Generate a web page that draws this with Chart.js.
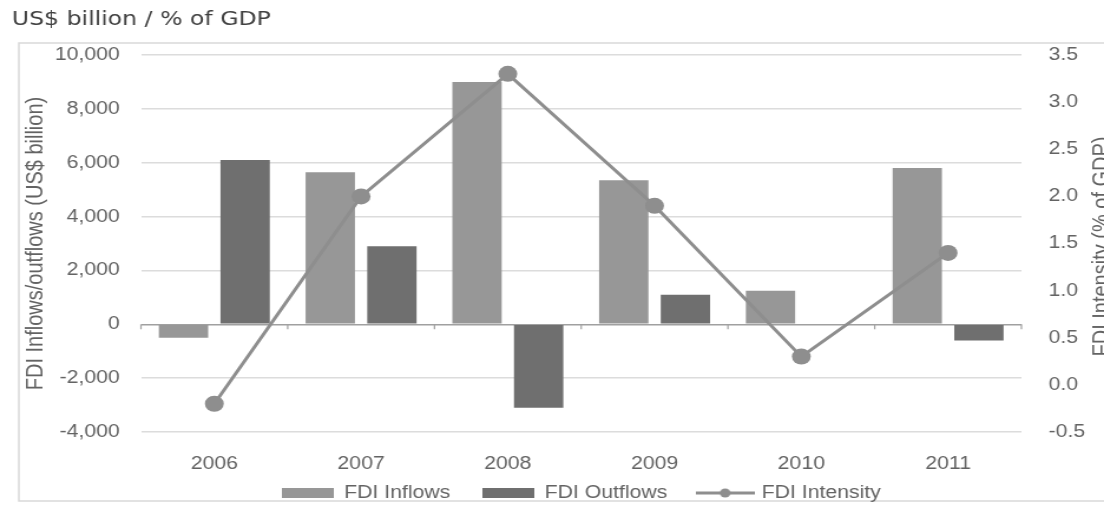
<!DOCTYPE html>
<html>
<head>
<meta charset="utf-8">
<title>FDI flows and intensity</title>
<script src="https://cdn.jsdelivr.net/npm/chart.js@4.4.1/dist/chart.umd.min.js"></script>
<style>
  html, body { margin: 0; padding: 0; background: #fff; overflow: hidden; }
  /* chart is laid out narrower, then widened to the full window */
  #wrap { width: 936px; height: 507px; transform: scaleX(1.1795); transform-origin: 0 0; }
</style>
</head>
<body>
<div id="wrap"><canvas id="fdiChart"></canvas></div>
<script>
const years = ["2006", "2007", "2008", "2009", "2010", "2011"];
const inflows = [-500, 5650, 9000, 5350, 1250, 5800];
const outflows = [6100, 2900, -3100, 1100, 0, -600];
const intensity = [-0.2, 2.0, 3.3, 1.9, 0.3, 1.4];

const amountTicks = [-4000, -2000, 0, 2000, 4000, 6000, 8000, 10000];
const intensityTicks = [-0.5, 0.0, 0.5, 1.0, 1.5, 2.0, 2.5, 3.0, 3.5];

const chartTitle = "US$ billion / % of GDP";
const leftTitle = "FDI Inflows/outflows (US$ billion)";
const rightTitle = "FDI Intensity (% of GDP)";

const inColor = "#979797";
const outColor = "#6f6f6f";
const lineColor = "#8e8e8e";
const textColor = "#636363";
const sans = '"Liberation Sans", Arial, sans-serif';

// legend icons: flat bars and a line with a dot
function barIcon(color) {
  const c = document.createElement("canvas");
  c.width = 44; c.height = 10;
  const g = c.getContext("2d");
  g.fillStyle = color;
  g.fillRect(0, 0, 44, 10);
  return c;
}
function lineIcon(color) {
  const c = document.createElement("canvas");
  c.width = 50; c.height = 12;
  const g = c.getContext("2d");
  g.strokeStyle = color;
  g.lineWidth = 3;
  g.beginPath(); g.moveTo(0, 6); g.lineTo(50, 6); g.stroke();
  g.fillStyle = color;
  g.beginPath(); g.arc(25, 6, 4.5, 0, Math.PI * 2); g.fill();
  return c;
}
const legendIcons = [barIcon(inColor), barIcon(outColor), lineIcon(lineColor)];

// white page + light frame around the chart
const framePlugin = {
  id: "frame",
  beforeDraw(chart) {
    const ctx = chart.ctx;
    ctx.save();
    ctx.fillStyle = "#fff";
    ctx.fillRect(0, 0, chart.width, chart.height);
    ctx.strokeStyle = "#d9d9d9";
    ctx.lineWidth = 1.5;
    ctx.strokeRect(16, 43, chart.width + 20, 458);
    ctx.restore();
  }
};

// small ticks hanging off the zero line at category boundaries
const zeroTicksPlugin = {
  id: "zeroTicks",
  afterDatasetsDraw(chart) {
    const x = chart.scales.x;
    const y0 = chart.scales.y.getPixelForValue(0);
    const step = (x.right - x.left) / years.length;
    const ctx = chart.ctx;
    ctx.save();
    ctx.strokeStyle = "#a0a0a0";
    ctx.lineWidth = 1.2;
    for (let i = 0; i <= years.length; i++) {
      const px = x.left + i * step;
      ctx.beginPath();
      ctx.moveTo(px, y0);
      ctx.lineTo(px, y0 + 5);
      ctx.stroke();
    }
    ctx.restore();
  }
};

// right axis title, reading upwards like the left one
const rightTitlePlugin = {
  id: "rightTitle",
  afterDraw(chart) {
    const area = chart.chartArea;
    const ctx = chart.ctx;
    ctx.save();
    ctx.translate(chart.width + 4, (area.top + area.bottom) / 2 + 3);
    ctx.rotate(-Math.PI / 2);
    ctx.font = "20px " + sans;
    ctx.fillStyle = textColor;
    ctx.textAlign = "center";
    ctx.textBaseline = "alphabetic";
    ctx.fillText(rightTitle, 0, 0);
    ctx.restore();
  }
};

const fdiChart = new Chart(document.getElementById("fdiChart"), {
  type: "bar",
  data: {
    labels: years,
    datasets: [{
      label: "FDI Inflows",
      data: inflows,
      backgroundColor: inColor,
      yAxisID: "y",
      order: 1
    }, {
      label: "FDI Outflows",
      data: outflows,
      backgroundColor: outColor,
      yAxisID: "y",
      order: 1
    }, {
      type: "line",
      label: "FDI Intensity",
      data: intensity,
      borderColor: lineColor,
      backgroundColor: lineColor,
      borderWidth: 3,
      pointRadius: 8,
      pointHoverRadius: 8,
      pointBorderWidth: 0,
      tension: 0,
      yAxisID: "y2",
      order: 0
    }]
  },
  options: {
    responsive: true,
    maintainAspectRatio: false,
    animation: false,
    datasets: {
      bar: { categoryPercentage: 0.84, barPercentage: 0.8 }
    },
    layout: { padding: { left: 10, right: 0, top: 0, bottom: 5 } },
    plugins: {
      tooltip: { enabled: false },
      title: {
        display: true,
        text: chartTitle,
        align: "start",
        color: "#404040",
        font: { family: '"DejaVu Sans", Verdana, sans-serif', size: 20, weight: "normal" },
        padding: { top: 8, bottom: 23 }
      },
      legend: {
        position: "bottom",
        fullSize: false,
        maxHeight: 45,
        labels: {
          usePointStyle: true,
          pointStyleWidth: 44,
          boxHeight: 10,
          padding: 27,
          color: textColor,
          font: { family: sans, size: 18 },
          generateLabels(chart) {
            const items = Chart.defaults.plugins.legend.labels.generateLabels(chart);
            items.sort((a, b) => a.datasetIndex - b.datasetIndex);
            items.forEach(item => { item.pointStyle = legendIcons[item.datasetIndex]; });
            return items;
          }
        }
      }
    },
    scales: {
      x: {
        grid: { display: false },
        border: { display: false },
        ticks: { color: textColor, font: { family: sans, size: 18 }, padding: 13 },
        afterFit(scale) {
          // keep the axis box short so the legend sits close; labels may spill below it
          scale.height = 25;
          scale._computeLabelArea = () => null;
        }
      },
      y: {
        position: "left",
        min: amountTicks[0],
        max: amountTicks[amountTicks.length - 1],
        border: { display: false },
        grid: {
          drawTicks: false,
          color: ctx => ctx.tick.value === 0 ? "#a0a0a0" : "#dcdcdc",
          lineWidth: 1.5
        },
        ticks: {
          stepSize: amountTicks[1] - amountTicks[0],
          padding: 18,
          color: textColor,
          font: { family: sans, size: 18 },
          callback: value => value.toLocaleString("en-US")
        },
        title: {
          display: true,
          text: leftTitle,
          color: textColor,
          font: { family: sans, size: 20 },
          padding: { top: 8, bottom: 0 }
        },
        afterFit(scale) { scale.width = 109.5; }
      },
      y2: {
        position: "right",
        min: intensityTicks[0],
        max: intensityTicks[intensityTicks.length - 1],
        border: { display: false },
        grid: { display: false, drawTicks: false },
        ticks: {
          stepSize: intensityTicks[1] - intensityTicks[0],
          padding: 23,
          color: textColor,
          font: { family: sans, size: 18 },
          callback: value => value.toFixed(1)
        },
        afterFit(scale) { scale.width = 70; }
      }
    }
  },
  plugins: [framePlugin, zeroTicksPlugin, rightTitlePlugin]
});
</script>
</body>
</html>
